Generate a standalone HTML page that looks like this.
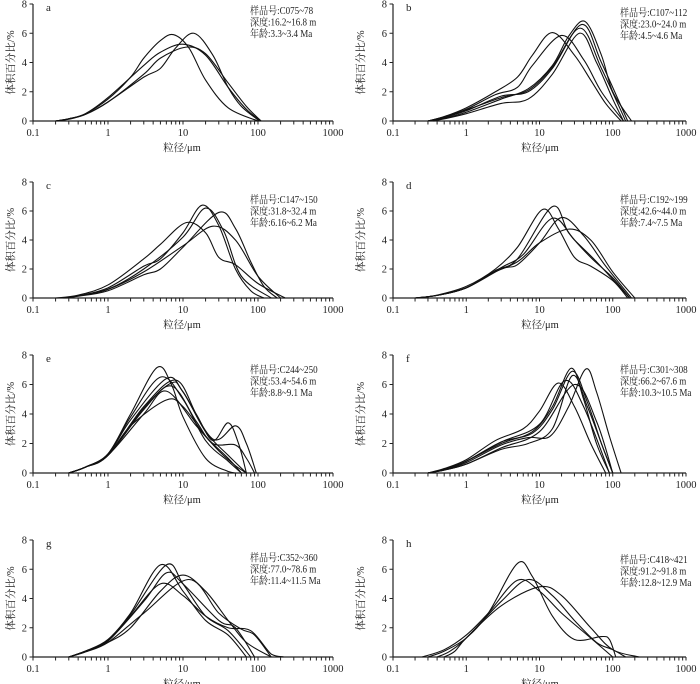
<!DOCTYPE html>
<html><head><meta charset="utf-8">
<style>
html,body{margin:0;padding:0;background:#fff;}
svg{display:block;}
text{font-family:"Liberation Serif","Noto Serif CJK SC",serif;fill:#222;}
</style></head>
<body>
<svg id="fig" width="700" height="684" viewBox="0 0 700 684" xmlns="http://www.w3.org/2000/svg"></svg>
<script>
// Tick labels
const xTickValues = [0.1, 1, 10, 100, 1000];
const xTickLabels = ["0.1", "1", "10", "100", "1000"];
const yTickValues = [0, 2, 4, 6, 8];
const yTickLabels = ["0", "2", "4", "6", "8"];

// Panel letters and annotations
const panelLetters = ["a","b","c","d","e","f","g","h"];
const sampleIds = ["样品号:C075~78","样品号:C107~112","样品号:C147~150","样品号:C192~199","样品号:C244~250","样品号:C301~308","样品号:C352~360","样品号:C418~421"];
const depths = ["深度:16.2~16.8 m","深度:23.0~24.0 m","深度:31.8~32.4 m","深度:42.6~44.0 m","深度:53.4~54.6 m","深度:66.2~67.6 m","深度:77.0~78.6 m","深度:91.2~91.8 m"];
const ages = ["年龄:3.3~3.4 Ma","年龄:4.5~4.6 Ma","年龄:6.16~6.2 Ma","年龄:7.4~7.5 Ma","年龄:8.8~9.1 Ma","年龄:10.3~10.5 Ma","年龄:11.4~11.5 Ma","年龄:12.8~12.9 Ma"];

// Series: [grain size µm, volume %]
const seriesA = [
 [[0.2,0],[0.3,0.15],[0.5,0.5],[1,1.5],[2,3],[3,4.3],[5,5.5],[7.5,5.9],[12,5.0],[20,2.8],[40,0.9],[100,0]],
 [[0.2,0],[0.3,0.15],[0.5,0.45],[1,1.3],[3,3.0],[5,3.6],[8,5.0],[14,6.0],[25,4.5],[40,2.3],[60,1.0],[105,0]],
 [[0.2,0],[0.3,0.15],[0.5,0.5],[1,1.6],[3,3.8],[5,4.7],[10,5.25],[20,4.5],[40,2.3],[70,0.8],[110,0]],
 [[0.2,0],[0.3,0.12],[0.5,0.45],[1,1.3],[3,3.2],[5,4.3],[11,5.05],[20,4.6],[40,2.6],[70,1.0],[110,0]]
];
const seriesB = [
 [[0.3,0],[0.5,0.3],[1,0.9],[2.5,2.0],[5,3.0],[8,4.5],[15,6.05],[30,4.5],[50,2.8],[80,1.2],[130,0]],
 [[0.3,0],[0.5,0.3],[1,0.8],[2.5,1.8],[5,2.3],[8,3.8],[20,5.85],[40,4.2],[70,2.0],[140,0]],
 [[0.3,0],[0.5,0.2],[1,0.6],[3,1.5],[7,2.2],[15,3.8],[25,5.8],[42,6.8],[70,4.5],[100,2.0],[180,0]],
 [[0.3,0],[0.5,0.25],[1,0.7],[3,1.7],[7,2.0],[15,3.6],[38,6.6],[70,4.0],[160,0]],
 [[0.3,0],[0.5,0.25],[1,0.75],[3,1.6],[7,2.1],[15,3.7],[36,6.35],[70,3.6],[150,0]],
 [[0.35,0],[0.5,0.15],[1,0.5],[3,1.2],[7,1.5],[15,3.2],[35,6.0],[60,4.0],[100,1.5],[140,0]]
];
const seriesC = [
 [[0.2,0],[0.4,0.2],[1,0.9],[3,2.7],[5,3.7],[11,5.2],[20,4.5],[30,2.8],[50,2.3],[100,1.0],[230,0]],
 [[0.25,0],[0.4,0.15],[1,0.7],[3,2.2],[5,2.7],[10,4.5],[18,6.4],[30,5.0],[50,2.0],[80,0.5],[120,0]],
 [[0.25,0],[0.4,0.15],[1,0.6],[3,2.0],[10,4.2],[20,6.2],[35,4.6],[60,1.5],[150,0]],
 [[0.25,0],[0.4,0.12],[1,0.5],[3,1.6],[5,2.0],[10,3.5],[30,5.9],[50,4.8],[80,2.5],[120,0.8],[180,0]],
 [[0.25,0],[0.4,0.15],[1,0.6],[3,1.8],[10,3.6],[25,4.95],[50,4.0],[100,1.5],[200,0]]
];
const seriesD = [
 [[0.2,0],[0.4,0.2],[1,0.8],[2.5,2.0],[5,3.5],[11,6.1],[18,4.8],[30,2.8],[50,2.2],[100,1.2],[160,0]],
 [[0.2,0],[0.4,0.18],[1,0.7],[2.5,1.9],[5,2.7],[15,6.3],[25,4.5],[50,2.8],[100,1.4],[170,0]],
 [[0.2,0],[0.4,0.18],[1,0.7],[3,2.1],[6,3.0],[15,5.5],[30,4.0],[60,2.5],[170,0]],
 [[0.2,0],[0.4,0.18],[1,0.7],[3,2.0],[5,2.3],[10,3.8],[20,5.55],[40,4.3],[80,2.2],[180,0]],
 [[0.2,0],[0.4,0.18],[1,0.7],[2,1.6],[5,2.5],[10,3.8],[25,4.75],[50,4.0],[100,1.8],[200,0]]
];
const seriesE = [
 [[0.3,0],[0.5,0.4],[1,1.3],[2,4.0],[4.5,7.15],[7,6.0],[10,3.8],[20,1.0],[40,0.1],[50,0]],
 [[0.3,0],[0.5,0.4],[1,1.3],[2,3.8],[5,6.5],[10,5.0],[20,2.2],[40,0.8],[60,0]],
 [[0.3,0],[0.5,0.4],[1,1.25],[2,3.6],[6,6.4],[10,5.5],[20,2.8],[40,1.2],[70,0]],
 [[0.3,0],[0.5,0.4],[1,1.2],[3,4.5],[8,6.3],[15,4.0],[25,2.2],[40,3.4],[55,2.0],[70,0]],
 [[0.3,0],[0.5,0.4],[1,1.2],[3,4.4],[7,6.1],[10,5.5],[25,2.3],[50,3.2],[70,2.0],[95,0]],
 [[0.3,0],[0.5,0.4],[1,1.2],[3,4.3],[7,5.9],[15,3.5],[25,2.0],[50,1.9],[70,1.0],[90,0]],
 [[0.3,0],[0.5,0.4],[1,1.2],[3,4.0],[6,5.55],[15,3.2],[30,1.5],[50,0.5],[70,0]],
 [[0.3,0],[0.5,0.4],[1,1.2],[2,3.2],[6,4.95],[10,4.5],[20,2.5],[40,1.0],[60,0]]
];
const seriesF = [
 [[0.3,0],[0.5,0.3],[1,0.9],[2.5,2.2],[6,3.0],[10,4.2],[18,6.1],[30,4.5],[50,2.0],[80,0]],
 [[0.3,0],[0.5,0.25],[1,0.8],[3,2.0],[8,2.8],[15,4.5],[27,7.1],[40,5.0],[60,2.0],[90,0]],
 [[0.3,0],[0.5,0.25],[1,0.8],[3,2.1],[8,2.7],[15,4.3],[28,6.9],[45,4.8],[70,2.0],[100,0]],
 [[0.3,0],[0.5,0.25],[1,0.8],[3,2.1],[10,3.3],[22,6.25],[40,4.5],[90,0]],
 [[0.3,0],[0.5,0.2],[1,0.6],[3,1.7],[10,2.8],[30,6.0],[60,3.5],[100,0]],
 [[0.3,0],[0.5,0.22],[1,0.7],[3,1.9],[7,2.4],[14,2.5],[25,4.5],[43,7.05],[60,5.5],[90,2.5],[130,0]],
 [[0.3,0],[0.5,0.2],[1,0.6],[3,1.6],[7,2.0],[15,3.0],[28,6.6],[45,4.5],[70,2.0],[100,0]]
];
const seriesG = [
 [[0.3,0],[0.5,0.4],[1,1.2],[2,3.0],[5,6.3],[10,4.5],[20,2.5],[40,1.5],[70,0]],
 [[0.3,0],[0.5,0.4],[1,1.15],[2,2.9],[6,6.3],[10,5.0],[20,2.8],[40,1.8],[80,0]],
 [[0.3,0],[0.5,0.4],[1,1.1],[3,3.8],[6,5.75],[10,5.0],[30,2.5],[50,2.0],[90,0]],
 [[0.3,0],[0.5,0.35],[1,1.0],[2,2.0],[5,4.5],[10,5.6],[20,4.5],[40,2.5],[70,1.0],[150,0]],
 [[0.3,0],[0.5,0.35],[1,1.0],[3,3.0],[12,5.3],[30,3.0],[60,1.9],[90,1.5],[150,0]],
 [[0.3,0],[0.5,0.4],[1,1.1],[2,2.8],[5,5.0],[10,4.2],[20,2.8],[40,2.0],[80,1.8],[150,0.2],[220,0]]
];
const seriesH = [
 [[0.3,0],[0.5,0.4],[1,1.3],[2,3.0],[5,6.4],[8,5.5],[15,2.8],[30,1.2],[70,1.4],[90,1.2],[110,0]],
 [[0.25,0],[0.5,0.5],[1,1.5],[2,3.0],[5,5.25],[10,4.5],[20,3.0],[50,1.3],[100,0]],
 [[0.4,0],[0.6,0.4],[1,1.3],[3,3.8],[7,5.3],[15,4.2],[30,2.5],[60,1.0],[100,0.5],[150,0]],
 [[0.5,0],[0.7,0.4],[1,1.3],[3,3.5],[10,4.8],[20,4.2],[50,2.0],[100,0.5],[230,0]]
];
const allSeries = [seriesA, seriesB, seriesC, seriesD, seriesE, seriesF, seriesG, seriesH];

const NS = "http://www.w3.org/2000/svg";
const svg = document.getElementById("fig");
function mk(tag, attrs, parent) {
  const el = document.createElementNS(NS, tag);
  for (const k in attrs) el.setAttribute(k, attrs[k]);
  parent.appendChild(el);
  return el;
}

const leftCols = {x0: 33, x1: 333, titleX: 10, labelX: 182, annX: 250};
const rightCols = {x0: 393, x1: 686, titleX: 360, labelX: 540, annX: 620};
const rowTops = [4, 182, 355, 540];
const rowBottoms = [121, 298, 473, 657];
const annOffsets = [[6, 8], [17, 17], [14, 14], [17, 19]];

for (let p = 0; p < 8; p++) {
  const col = p % 2 === 0 ? leftCols : rightCols;
  const row = Math.floor(p / 2);
  const yTop = rowTops[row], yBot = rowBottoms[row];
  const xs = v => col.x0 + (Math.log10(v) + 1) / 4 * (col.x1 - col.x0);
  const ys = v => yBot - v / 8 * (yBot - yTop);

  const g = mk("g", {}, svg);
  
  

  const xa = mk("line", {x1: col.x0, y1: yBot, x2: col.x1, y2: yBot, stroke: "#222", "stroke-width": 1.2}, g);
  
  
  const ya = mk("line", {x1: col.x0, y1: yTop, x2: col.x0, y2: yBot, stroke: "#222", "stroke-width": 1.2}, g);
  
  

  for (let d = -1; d < 3; d++) {
    for (let m = 1; m <= 9; m++) {
      const v = m * Math.pow(10, d);
      const t = mk("line", {x1: xs(v), y1: yBot, x2: xs(v), y2: yBot + 3.5, stroke: "#222", "stroke-width": 1}, g);
      
      
    }
  }
  const tl = mk("line", {x1: xs(1000), y1: yBot, x2: xs(1000), y2: yBot + 3.5, stroke: "#222", "stroke-width": 1}, g);
  
  
  xTickValues.forEach((v, i) => {
    const t = mk("text", {x: xs(v), y: yBot + 15, "font-size": 10.5, "text-anchor": "middle"}, g);
    
    
    t.textContent = xTickLabels[i];
  });
  yTickValues.forEach((v, i) => {
    const l = mk("line", {x1: col.x0 - 3.5, y1: ys(v), x2: col.x0, y2: ys(v), stroke: "#222", "stroke-width": 1}, g);
    
    
    const t = mk("text", {x: col.x0 - 6, y: ys(v) + 3.5, "font-size": 10.5, "text-anchor": "end"}, g);
    
    
    t.textContent = yTickLabels[i];
  });

  const yt = mk("text", {x: 0, y: 0, "font-size": 10.5, "text-anchor": "middle",
    transform: `translate(${col.titleX + 4},${(yTop + yBot) / 2}) rotate(-90)`}, g);
  
  
  yt.textContent = "体积百分比/%";
  const xt = mk("text", {x: col.labelX, y: yBot + 30, "font-size": 10.5, "text-anchor": "middle"}, g);
  
  
  xt.textContent = "粒径/μm";

  const lt = mk("text", {x: col.x0 + 13, y: yTop + 7, "font-size": 11}, g);
  
  
  lt.textContent = panelLetters[p];

  const off = annOffsets[row][p % 2];
  [sampleIds[p], depths[p], ages[p]].forEach((s, i) => {
    const t = mk("text", {x: col.annX, y: yTop + off + 4 + i * 11.5, "font-size": 10.5}, g);
    
    
    t.textContent = s;
    const w = t.getComputedTextLength();
    if (w > 0) {
      t.setAttribute("textLength", (w * 0.86).toFixed(1));
      t.setAttribute("lengthAdjust", "spacingAndGlyphs");
    }
  });

  allSeries[p].forEach((curve, ci) => {
    const pts = curve.map(([x, y]) => [xs(x), ys(y)]);
    let dstr = `M${pts[0][0].toFixed(2)},${pts[0][1].toFixed(2)}`;
    for (let i = 0; i < pts.length - 1; i++) {
      const p0 = pts[Math.max(0, i - 1)], p1 = pts[i], p2 = pts[i + 1], p3 = pts[Math.min(pts.length - 1, i + 2)];
      const c1x = p1[0] + (p2[0] - p0[0]) / 6, c1y = Math.min(yBot, p1[1] + (p2[1] - p0[1]) / 6);
      const c2x = p2[0] - (p3[0] - p1[0]) / 6, c2y = Math.min(yBot, p2[1] - (p3[1] - p1[1]) / 6);
      dstr += ` C${c1x.toFixed(2)},${c1y.toFixed(2)} ${c2x.toFixed(2)},${c2y.toFixed(2)} ${p2[0].toFixed(2)},${p2[1].toFixed(2)}`;
    }
    const path = mk("path", {d: dstr, fill: "none", stroke: "#111", "stroke-width": 1.1}, g);
    
    
  });
}
</script>
</body></html>
